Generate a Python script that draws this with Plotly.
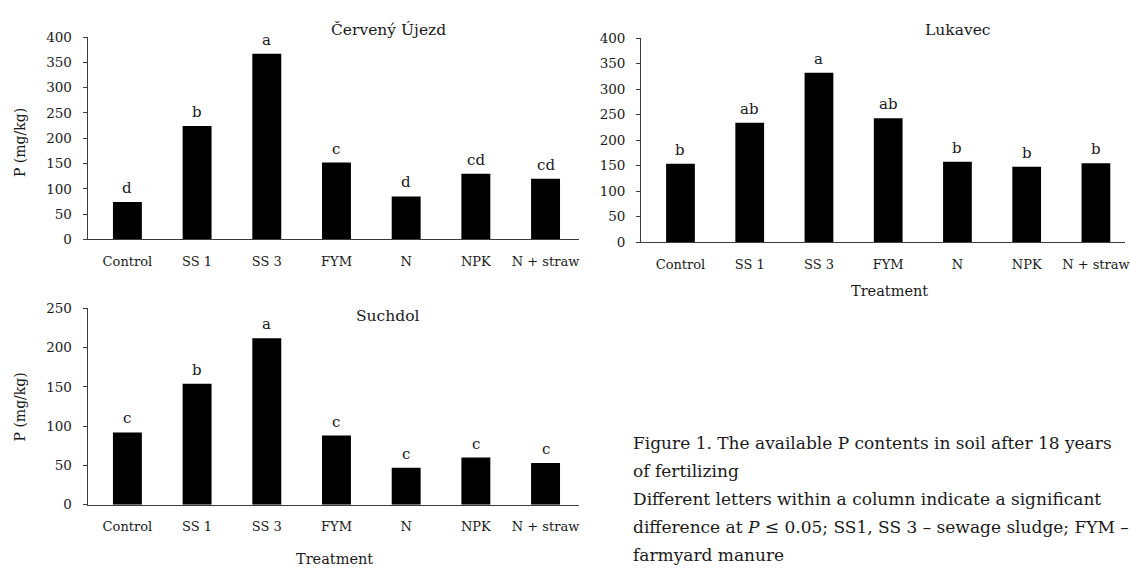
import plotly.graph_objects as go

# Treatments on the x axis (shared by all three sites)
treatments = ["Control", "SS 1", "SS 3", "FYM", "N", "NPK", "N + straw"]

# Available P (mg/kg) per site
cerveny_ujezd = [74, 224, 367, 152, 85, 130, 120]
lukavec = [154, 234, 332, 243, 158, 148, 155]
suchdol = [92, 154, 212, 88, 47, 60, 53]

# Significance letters per site
letters_cu = ["d", "b", "a", "c", "d", "cd", "cd"]
letters_lu = ["b", "ab", "a", "ab", "b", "b", "b"]
letters_su = ["c", "b", "a", "c", "c", "c", "c"]

FONT = "DejaVu Serif"
TXT = "#1a1a1a"
AX = "#3c3c3c"
W, H = 1130, 573


def px_x(a, b):
    return [a / W, b / W]


def px_y(top, bottom):
    return [(H - bottom) / H, (H - top) / H]


fig = go.Figure()

panels = [
    ("x", "y", cerveny_ujezd, letters_cu),
    ("x2", "y2", lukavec, letters_lu),
    ("x3", "y3", suchdol, letters_su),
]

for xa, ya, vals, lets in panels:
    fig.add_trace(go.Bar(
        x=treatments, y=vals, xaxis=xa, yaxis=ya,
        marker=dict(color="#000000", line=dict(width=0)),
        showlegend=False, hoverinfo="x+y",
    ))
    for t, v, l in zip(treatments, vals, lets):
        fig.add_annotation(
            x=t, y=v, xref=xa, yref=ya, text=l, showarrow=False,
            yanchor="bottom", yshift=3,
            font=dict(family=FONT, size=15, color=TXT),
        )

xcommon = dict(
    type="category", showline=True, linecolor=AX, linewidth=1,
    ticks="", showgrid=False, zeroline=False,
    tickfont=dict(family=FONT, size=13, color=TXT),
    ticklabelstandoff=10,
)
ycommon = dict(
    showline=True, linecolor=AX, linewidth=1,
    ticks="outside", ticklen=4, tickcolor=AX, tickwidth=1,
    showgrid=False, zeroline=False, dtick=50,
    tickfont=dict(family=FONT, size=13.5, color=TXT),
    ticklabelstandoff=8,
)

fig.update_layout(
    width=W, height=H,
    margin=dict(l=0, r=0, t=0, b=0),
    paper_bgcolor="white", plot_bgcolor="white",
    bargap=0.585,
    xaxis=dict(xcommon, domain=px_x(88, 582), range=[-0.571, 6.486], anchor="y"),
    yaxis=dict(ycommon, domain=px_y(30, 238), range=[0, 400], anchor="x"),
    xaxis2=dict(xcommon, domain=px_x(644, 1130), range=[-0.568, 6.42], anchor="y2"),
    yaxis2=dict(ycommon, domain=px_y(31, 241), range=[0, 400], anchor="x2"),
    xaxis3=dict(xcommon, domain=px_x(88, 582), range=[-0.571, 6.486], anchor="y3"),
    yaxis3=dict(ycommon, domain=px_y(309, 511), range=[0, 250], anchor="x3"),
)

# Panel titles
for txt, xp, yp in [("Červený Újezd", 390, 23), ("Lukavec", 962, 23), ("Suchdol", 390, 317)]:
    fig.add_annotation(
        x=xp / W, y=(H - yp) / H, xref="paper", yref="paper", text=txt,
        showarrow=False, xanchor="center", yanchor="middle",
        font=dict(family=FONT, size=15.5, color=TXT),
    )

# Axis titles
for xp, yp in [(20, 138), (20, 410)]:
    fig.add_annotation(
        x=xp / W, y=(H - yp) / H, xref="paper", yref="paper", text="P (mg/kg)",
        showarrow=False, textangle=-90, xanchor="center", yanchor="middle",
        font=dict(family=FONT, size=14, color=TXT),
    )
for xp, yp in [(893, 291), (336, 567)]:
    fig.add_annotation(
        x=xp / W, y=(H - yp) / H, xref="paper", yref="paper", text="Treatment",
        showarrow=False, xanchor="center", yanchor="middle",
        font=dict(family=FONT, size=14.5, color=TXT),
    )

# Figure caption
caption = [
    "Figure 1. The available P contents in soil after 18 years",
    "of fertilizing",
    "Different letters within a column indicate a significant",
    "difference at <i>P</i> ≤ 0.05; SS1, SS 3 – sewage sludge; FYM –",
    "farmyard manure",
]
for i, line in enumerate(caption):
    fig.add_annotation(
        x=634 / W, y=(H - (447 + 29 * i)) / H, xref="paper", yref="paper",
        text=line, showarrow=False, xanchor="left", yanchor="middle",
        font=dict(family=FONT, size=17, color=TXT),
    )

fig.write_html("out.html")
